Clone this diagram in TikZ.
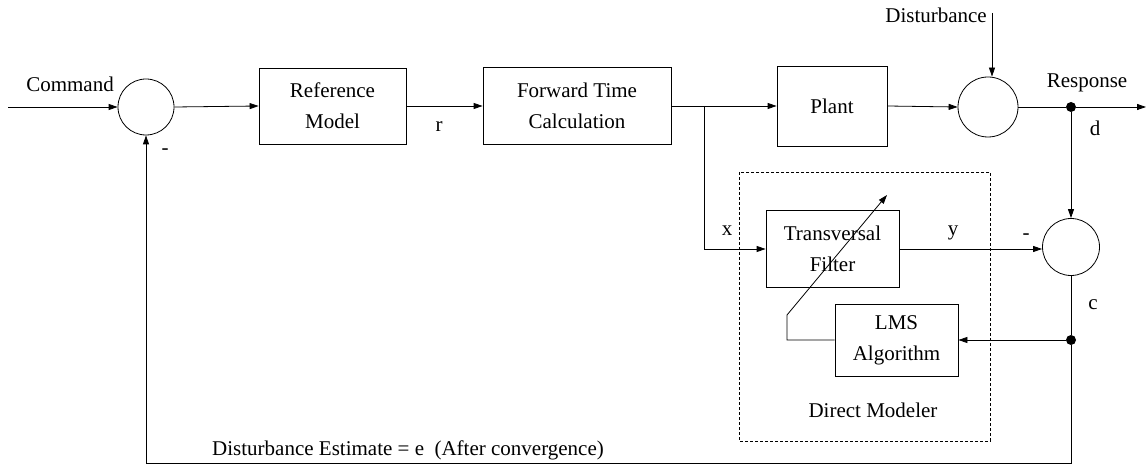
\documentclass[tikz,border=0pt]{standalone}
\usepackage{fontspec}
\setmainfont{Liberation Serif}
\usetikzlibrary{arrows.meta}
\usetikzlibrary{positioning}
\tikzstyle{block} = [rectangle, draw=black, line width=0.8pt, align=center, inner sep=0pt]
\tikzstyle{sum} = [circle, draw=black, line width=0.8pt, inner sep=0pt]
\tikzstyle{dot} = [circle, fill=black, inner sep=0pt, minimum size=10pt]
\tikzstyle{lbl} = [inner sep=0pt]
\tikzstyle{line} = [line width=0.8pt]
\tikzstyle{arrow} = [line width=0.8pt,-{Triangle[length=9pt,width=6pt]}]
\tikzstyle{modeler} = [draw=black, line width=0.7pt, dash pattern=on 3pt off 2pt]

\begin{document}
\begin{tikzpicture}[x=1pt,y=-1pt,font=\fontsize{21}{31}\selectfont]
	\useasboundingbox (0,0) rectangle (1146,470);
	% forward path
	\node[sum, minimum size=56pt] (sum1) at (146,107) {};
	\node[block, minimum width=147pt, minimum height=76pt] (refmodel) at (332.5,106) {Reference\\Model};
	\node[block, minimum width=188pt, minimum height=77pt] (ftc) at (577,106) {Forward Time\\Calculation};
	\node[block, minimum width=110pt, minimum height=80pt] (plant) at (832,106) {Plant};
	\node[sum, minimum size=60pt] (sum2) at (988,107) {};
	\node[dot] (respdot) at (1071,107) {};
	% direct modeler
	\draw[modeler] (739,172) rectangle (990,441);
	\node[block, minimum width=133pt, minimum height=77pt] (tf) at (832.5,249) {Transversal\\Filter};
	\node[block, minimum width=123pt, minimum height=72pt] (lms) at (896.5,340) {LMS\\Algorithm};
	\node[sum, minimum size=57pt] (sum3) at (1071,247) {};
	\node[dot] (cdot) at (1071,340) {};
	% labels
	\node[lbl] (cmdlbl) at (70,84) {Command};
	\node[lbl] (rlbl) at (439,127) {r};
	\node[lbl] (xlbl) at (727,231) {x};
	\node[lbl] (ylbl) at (953,233) {y};
	\node[lbl] (minus1) at (165,152) {-};
	\node[lbl] (minus3) at (1026,237) {-};
	\node[lbl, anchor=east] (distlbl) at (987,15) {Disturbance};
	\node[lbl] (resplbl) at (1087,83) {Response};
	\node[lbl] (dlbl) at (1095,128) {d};
	\node[lbl] (clbl) at (1093,305) {c};
	\node[lbl] (modlbl) at (873,410) {Direct Modeler};
	\node[lbl, anchor=west] (estlbl) at (212,450) {Disturbance Estimate = e \ (After convergence)};
	% connectors
	\coordinate (cmdin) at (8,107);
	\coordinate (branch) at (704,106);
	\coordinate (distin) at (992,13);
	\coordinate (respout) at (1146,107);
	\coordinate (fbk) at (1071,463);
	\coordinate (adjlow) at (787,315);
	\coordinate (adjtip) at (887,195);
	\draw[arrow] (cmdin) -- (sum1.west);
	\draw[arrow] (sum1.east) -- (refmodel.west);
	\draw[arrow] (refmodel.east) -- (ftc.west);
	\draw[line] (ftc.east) -- (branch);
	\draw[arrow] (branch) -- (plant.west);
	\draw[arrow] (branch) |- (tf.west);
	\draw[arrow] (plant.east) -- (sum2.west);
	\draw[arrow] (distin) -- (distin |- sum2.north);
	\draw[line] (sum2.east) -- (respdot);
	\draw[arrow] (respdot) -- (respout);
	\draw[arrow] (respdot) -- (sum3.north);
	\draw[arrow] (tf.east) -- (tf.east -| sum3.west);
	\draw[line] (sum3.south) -- (cdot);
	\draw[arrow] (cdot) -- (lms.east);
	\draw[arrow] (lms.west) -| (adjlow) -- (adjtip);
	\draw[arrow] (cdot) -- (fbk) -| (sum1.south);
\end{tikzpicture}
\end{document}
